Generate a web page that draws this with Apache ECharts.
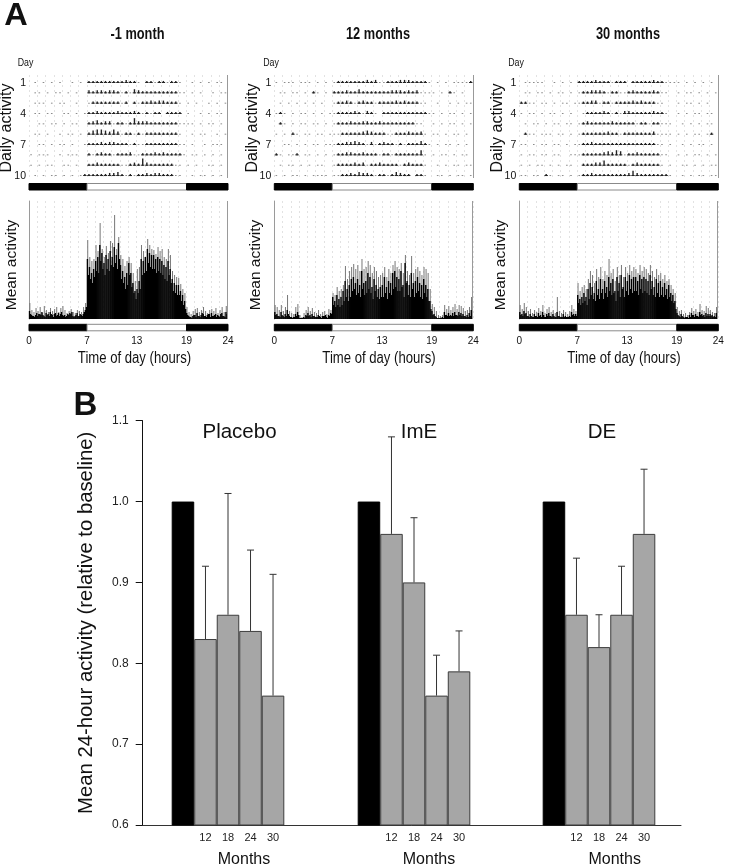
<!DOCTYPE html>
<html><head><meta charset="utf-8">
<style>html,body{margin:0;padding:0;background:#fff}#c{width:739px;height:866px}</style>
<script src="https://cdn.jsdelivr.net/npm/echarts@6/dist/echarts.min.js"></script>
</head><body><div id="c"></div>
<script>
const panelTitles = ['-1 month','12 months','30 months'];
const lightSchedule = [[0,7,'dark'],[7,19,'light'],[19,24,'dark']];
const hourTicks = [0,7,13,19,24];
const dayTicks = [1,4,7,10];

// mean activity (arbitrary units): tallest spikes per 15-minute bin
const meanPeak1 = [16,9,7,11,8,12,6,13,9,7,11,8,10,12,7,11,13,9,6,8,10,7,6,9,8,7,12,16,
 79,62,58,60,74,68,96,70,62,73,66,78,76,104,70,82,64,60,53,58,62,56,46,38,50,52,74,68,62,80,74,70,69,65,72,68,70,62,60,70,64,48,44,42,41,35,30,26,
 12,7,5,8,10,11,7,9,12,8,6,9,10,8,11,6,9,12,7,13];
const meanPeak2 = [14,12,9,14,8,12,24,8,6,5,12,15,4,2,6,9,12,8,11,7,6,9,5,7,8,5,10,9,
 26,24,32,28,30,34,53,40,48,52,55,50,54,48,60,50,52,58,54,46,52,48,42,44,46,52,42,50,46,54,58,52,50,56,46,64,48,44,63,46,50,52,48,44,52,50,46,30,
 15,12,8,4,3,4,14,10,13,9,12,15,10,14,13,11,8,9,12,22];
const meanPeak3 = [14,10,16,12,8,10,6,9,7,11,8,14,6,10,12,7,9,6,22,8,6,9,7,5,8,14,10,8,
 36,28,32,34,30,40,48,44,36,50,42,52,40,48,44,60,46,50,38,52,44,54,42,52,46,54,48,52,50,46,54,48,52,50,46,54,48,42,50,44,46,40,44,38,40,34,30,26,
 12,8,9,5,6,4,7,11,8,10,7,15,9,8,13,11,9,7,6,12];
// dense black core per 7.5-minute bin
const meanCore1 = [8,5,4,3,3,2,4,6,3,5,5,4,7,4,3,2,6,4,5,3,7,5,4,2,5,6,3,4,6,3,5,7,4,3,4,2,3,5,4,6,5,7,3,2,3,4,6,3,3,5,4,3,5,7,9,12,
 60,44,52,40,46,36,50,42, 58,48,62,46,74,58,66,50, 56,44,64,50,60,48,68,54, 62,52,72,56,64,50,76,60,
 54,40,48,36,42,30,46,34, 56,44,46,32,36,26,28,20, 30,26,38,30,60,44,58,46, 62,48,70,56,66,52,64,50,
 64,50,60,46,62,48,60,46, 58,44,54,40,52,38,58,44, 50,36,40,28,36,26,34,24, 34,24,28,18,24,14,18,10,
 6,4,3,2,2,1,3,4,4,2,6,3,3,2,4,6,5,3,3,2,4,5,5,2,6,3,3,4,5,2,4,3,2,5,6,3,3,2,7,5];
const meanCore2 = [7,4,5,3,3,2,7,4,3,2,5,3,9,5,3,2,2,1,2,2,5,3,7,4,1,1,1,1,2,1,4,3,6,3,4,2,5,3,3,2,2,2,4,3,2,1,3,3,3,4,2,1,4,3,6,5,
 22,14,18,12,24,14,20,12, 22,14,28,18,38,22,30,18, 34,22,40,28,42,30,36,24, 40,26,34,22,48,30,36,24,
 38,26,46,30,42,26,32,20, 40,28,34,22,30,20,32,22, 34,22,42,26,32,20,38,26, 36,24,46,30,48,32,42,28,
 40,28,48,32,34,22,56,36, 38,24,34,22,46,30,36,22, 38,26,42,28,36,22,34,20, 40,26,34,22,30,18,18,10,
 8,4,5,3,2,1,1,1,1,1,2,1,7,4,4,3,6,3,4,3,6,3,7,4,4,3,7,4,6,3,5,3,3,2,4,2,6,3,9,6];
const meanCore3 = [7,4,5,3,8,5,6,3,3,2,5,3,2,2,5,3,3,2,6,3,4,2,7,4,2,2,5,3,6,3,3,2,5,3,2,2,7,3,3,2,2,2,5,2,3,2,2,2,3,2,7,4,5,3,5,3,
 24,16,20,14,22,16,26,18, 22,14,30,20,36,24,32,20, 26,18,38,24,30,20,40,26, 30,20,38,26,32,22,42,28,
 36,24,40,26,28,18,42,28, 36,22,44,30,32,22,42,28, 38,24,44,30,40,26,42,28, 42,28,38,24,44,30,40,26,
 42,28,40,26,38,24,44,30, 38,24,32,22,40,26,36,22, 38,24,32,22,36,24,30,20, 34,22,26,18,24,16,18,10,
 6,4,3,2,5,3,2,1,2,2,2,1,4,2,6,4,4,2,5,3,3,2,7,4,5,3,4,2,6,3,5,3,5,3,4,2,3,2,6,4];

// daily activity per 30-minute bin, one row per day
const daily1 = [
 [0,1,0,1,0,1,0,1,0,0,1,0,1,0, 2,2,2,2,2,2,2,2,2,3,2,2,1,0,2,2,1,2,2,1,2,2,1,0, 0,1,0,1,0,1,0,1,1,0],
 [0,1,1,0,1,0,1,1,0,1,0,1,0,0, 3,2,3,3,2,3,3,2,1,2,1,4,3,2,2,2,2,2,2,2,2,2,1,1, 0,1,0,1,0,0,1,0,1,1],
 [0,1,1,1,0,1,0,1,1,0,0,1,0,0, 1,2,2,2,2,2,2,2,1,2,0,2,1,2,2,3,2,3,3,2,2,2,1,0, 1,0,1,0,0,1,0,1,0,1],
 [0,1,1,0,1,1,0,0,1,1,0,1,0,1, 2,2,3,2,2,2,2,3,2,2,2,3,2,1,2,1,2,2,0,2,2,2,2,0, 1,0,0,1,0,1,0,1,1,0],
 [0,0,1,1,0,1,1,0,1,0,1,1,0,0, 2,3,4,2,3,3,1,2,2,1,2,6,3,3,3,2,2,2,2,2,2,2,1,1, 1,1,0,1,0,1,1,0,1,0],
 [0,1,1,0,1,0,0,1,0,1,1,0,1,0, 2,4,5,5,4,3,5,3,1,2,2,1,2,1,2,2,2,2,2,2,2,2,1,0, 0,1,0,1,1,0,0,1,0,1],
 [0,0,1,1,0,1,0,1,1,0,1,0,0,1, 2,2,2,3,2,3,3,2,2,2,1,2,1,1,2,2,2,2,2,2,2,2,1,1, 0,1,0,0,1,0,1,1,1,0],
 [1,0,1,1,1,0,0,1,0,1,1,1,0,0, 2,1,2,3,2,2,1,2,2,2,3,1,1,2,2,2,3,2,3,2,2,2,2,1, 0,1,1,0,1,0,1,0,1,0],
 [1,0,1,0,1,1,0,0,1,1,0,1,0,0, 2,2,3,2,2,2,2,2,1,1,2,3,2,7,3,2,2,2,2,2,2,1,1,0, 1,0,1,0,0,1,1,0,1,0],
 [0,1,0,1,0,1,1,0,1,0,1,0,1,2, 2,2,2,2,2,3,3,4,2,1,2,1,2,2,3,2,3,3,2,2,2,1,1,0, 0,1,0,1,1,0,1,0,1,0]
];
const daily2 = [
 [1,0,1,1,1,0,1,1,1,0,1,0,1,0, 1,2,2,2,2,2,2,2,3,2,3,1,1,2,2,2,3,3,3,2,2,2,2,1, 0,1,0,1,0,1,1,1,1,2],
 [0,1,1,0,1,1,0,1,0,2,1,0,1,0, 2,2,2,3,2,2,4,2,2,2,2,2,2,2,3,3,3,2,3,2,3,1,1,1, 1,0,1,0,2,1,0,1,0,0],
 [0,1,0,1,0,1,0,1,0,1,0,1,0,0, 1,2,2,3,2,1,2,3,2,2,1,2,2,2,2,3,2,3,2,2,2,1,1,0, 0,1,0,0,1,0,1,0,1,1],
 [1,2,1,0,1,0,1,1,0,1,0,1,0,1, 1,2,2,2,2,3,2,1,3,2,1,0,2,2,2,2,2,2,2,2,2,2,2,1, 1,0,1,0,1,1,0,1,0,1],
 [0,2,1,0,1,0,1,1,0,1,1,0,1,0, 1,2,2,2,3,2,2,3,3,2,2,3,2,2,2,2,2,2,2,2,1,1,0,0, 1,0,1,0,1,1,0,1,0,1],
 [1,0,1,0,2,1,0,1,1,0,1,1,0,1, 1,1,2,2,2,2,2,3,4,3,2,2,2,1,1,2,2,2,3,2,2,3,1,0, 1,1,0,1,0,1,1,0,1,0],
 [0,0,1,1,0,1,0,1,0,1,1,0,1,1, 1,2,2,3,3,4,3,2,1,3,1,2,3,2,2,1,2,1,2,2,2,4,2,1, 0,1,0,1,1,0,1,0,1,0],
 [2,1,0,1,1,2,0,1,1,0,1,0,1,0, 1,2,2,3,3,2,2,3,2,2,2,1,2,2,1,2,2,2,2,2,2,5,1,0, 1,0,1,1,0,1,0,1,1,0],
 [0,1,0,1,1,0,1,0,1,0,1,1,0,0, 1,2,2,2,2,3,2,3,1,2,2,3,2,2,2,2,1,2,3,2,2,2,1,0, 0,1,0,1,0,1,1,0,1,1],
 [1,0,1,0,1,1,0,1,0,1,1,1,1,0, 1,1,2,2,3,2,4,3,3,2,1,2,2,1,2,4,3,2,2,0,2,2,1,0, 0,1,1,0,1,0,1,1,0,1]
];
const daily3 = [
 [0,1,1,1,1,1,0,0,1,0,1,0,1,0, 2,2,2,2,3,2,2,2,1,2,2,2,0,2,2,2,2,2,3,2,2,1,1,1, 1,0,1,0,1,0,1,0,1,0],
 [0,1,1,0,1,1,0,1,0,1,1,0,1,0, 1,2,2,3,3,3,2,1,2,2,1,1,2,3,2,2,2,2,3,2,1,1,0,0, 1,0,1,1,0,1,0,1,0,1],
 [2,2,1,1,0,1,1,0,1,0,1,1,0,1, 1,2,2,3,3,1,2,2,1,2,2,2,2,3,2,3,2,2,2,1,1,0,0,0, 1,0,1,1,0,1,0,1,0,0],
 [1,0,1,1,0,1,0,1,1,0,1,0,1,0, 0,1,2,2,2,2,3,2,1,2,1,3,3,2,2,2,2,2,3,2,2,1,0,0, 1,0,1,0,1,1,0,1,1,0],
 [0,1,0,1,1,0,1,0,1,1,0,1,1,0, 1,2,3,2,2,2,2,2,3,2,2,2,2,2,1,2,2,1,2,2,1,1,1,0, 0,1,0,1,0,1,0,1,1,0],
 [0,2,1,1,0,1,1,1,0,1,1,0,1,0, 1,2,2,2,2,2,2,3,2,2,1,2,2,2,2,2,2,2,3,1,1,1,1,0, 1,0,1,0,1,1,0,1,2,0],
 [1,1,0,1,0,1,1,0,1,1,0,1,0,1, 1,2,2,3,2,2,2,2,2,2,2,2,2,2,2,2,2,2,2,1,1,0,1,0, 0,1,0,1,0,1,1,0,1,0],
 [1,0,1,1,0,1,1,0,1,1,0,0,1,1, 1,2,2,2,2,2,3,4,3,5,4,1,2,2,3,2,2,2,2,2,1,1,0,0, 1,0,1,0,1,1,0,1,0,1],
 [1,0,1,0,1,1,0,1,0,1,0,1,1,0, 0,2,2,2,3,3,5,2,2,2,2,2,1,2,3,2,2,2,2,2,1,0,1,0, 0,1,1,0,1,0,1,0,1,1],
 [1,1,0,1,1,0,2,1,0,1,1,0,1,0, 1,2,2,3,2,2,2,2,2,2,2,2,3,5,3,2,2,2,2,2,2,2,1,0, 0,1,0,1,0,1,1,0,1,1]
];

// panel B
const monthLabels = ['', '12', '18', '24', '30'];
const groupNames = ['Placebo','ImE','DE'];
const placeboMeans = [1.0,0.83,0.86,0.84,0.76];
const placeboUpper = [null,0.92,1.01,0.94,0.91];
const imeMeans = [1.0,0.96,0.90,0.76,0.79];
const imeUpper = [null,1.08,0.98,0.81,0.84];
const deMeans = [1.0,0.86,0.82,0.86,0.96];
const deUpper = [null,0.93,0.86,0.92,1.04];

const SANS = '"Liberation Sans",Arial,sans-serif';
const panels = [
 {x:29,w:198.5,peak:meanPeak1,core:meanCore1,daily:daily1,title:137.5,dayX:25.5,dailyX:7,meanX:12,timeX:134.5},
 {x:274.3,w:198.5,peak:meanPeak2,core:meanCore2,daily:daily2,title:378,dayX:271,dailyX:253,meanX:255.5,timeX:379},
 {x:519.3,w:198.5,peak:meanPeak3,core:meanCore3,daily:daily3,title:628,dayX:516,dailyX:498,meanX:500.5,timeX:624}
];
const grids=[],xAxes=[],yAxes=[],series=[],texts=[];
function addGrid(left,top,width,height,xa,ya){
  grids.push({left,top,width,height,containLabel:false});
  const i=grids.length-1;
  xAxes.push(Object.assign({gridIndex:i},xa));
  yAxes.push(Object.assign({gridIndex:i},ya));
  return i;
}
function txt(text,x,y,font,opt){
  opt=opt||{};
  texts.push({type:'text',x,y,rotation:opt.rot||0,scaleX:opt.sx||1,scaleY:opt.sy||1,silent:true,
    style:{text,x:0,y:0,font,fill:opt.fill||'#111',textAlign:opt.align||'center',textVerticalAlign:'middle'}});
}
const hourSplit={show:true,lineStyle:{color:'#e2e2e2',type:[2,3],width:1}};
function hourAxis(){
  return {type:'value',min:0,max:24,interval:1,axisLine:{show:false},axisTick:{show:false},axisLabel:{show:false},splitLine:hourSplit};
}
function lightBar(p,top,withLabels){
  const xa={type:'value',min:0,max:24,interval:1,axisLine:{show:false},axisTick:{show:false},splitLine:{show:false},
    axisLabel:withLabels?{show:true,customValues:hourTicks,margin:5,fontFamily:SANS,fontSize:10,color:'#111',hideOverlap:false}:{show:false}};
  const i=addGrid(p.x,top,p.w+0.5,6.5,xa,{type:'value',min:0,max:1,show:false,splitLine:{show:false}});
  series.push({type:'custom',xAxisIndex:i,yAxisIndex:i,silent:true,clip:false,
    data:lightSchedule.map(s=>[s[0],s[1],s[2]==='dark'?1:0]),
    encode:{x:[0,1]},
    renderItem:function(params,api){
      const a=api.coord([api.value(0),1]),b=api.coord([api.value(1),0]);
      const dark=api.value(2)===1;
      return {type:'rect',shape:{x:a[0],y:a[1],width:b[0]-a[0],height:b[1]-a[1]},
        style:{fill:dark?'#000':'#fff',stroke:dark?'#000':'#8a8a8a',lineWidth:1}};
    }});
}
const PANEL_TOP=75, PANEL_H=103;
panels.forEach(function(p,pi){
  const r=addGrid(p.x,PANEL_TOP,p.w,PANEL_H,hourAxis(),{type:'value',inverse:true,min:0.226,max:10.19,
    axisLine:{show:false},axisTick:{show:false},splitLine:{show:false},
    axisLabel:{show:true,customValues:dayTicks,margin:3,fontFamily:SANS,fontSize:10.5,color:'#111'}});
  const rows=[];
  p.daily.forEach(function(row,d){row.forEach(function(v,b){if(v>0)rows.push([(b+0.5)/2,d+1,v]);});});
  series.push({type:'custom',xAxisIndex:r,yAxisIndex:r,silent:true,data:rows,encode:{x:0,y:1},
    renderItem:function(params,api){
      const t=api.value(0),d=api.value(1),v=api.value(2);
      const a=api.coord([t,d]),b=api.coord([t,d-v/10]);
      if(v===1) return {type:'rect',shape:{x:a[0]-0.8,y:a[1]-1,width:1.6,height:1},style:{fill:'#8c8c8c'}};
      return {type:'group',children:[
        {type:'rect',shape:{x:a[0]-1.7,y:a[1]-1,width:3.4,height:1},style:{fill:'#222'}},
        {type:'rect',shape:{x:a[0]-0.7,y:b[1],width:1.4,height:a[1]-b[1]},style:{fill:'#222'}}]};
    },
    markLine:{silent:true,symbol:'none',animation:false,label:{show:false},
      data:[{xAxis:24,lineStyle:{color:'#999',type:'solid',width:1}}]}});
  lightBar(p,183.5,false);
  const m=addGrid(p.x,201,p.w,118,hourAxis(),{type:'value',min:0,max:118,
    axisLine:{show:true,lineStyle:{color:'#9a9a9a',width:1}},axisTick:{show:false},axisLabel:{show:false},splitLine:{show:false}});
  series.push({type:'bar',xAxisIndex:m,yAxisIndex:m,silent:true,barWidth:1,barGap:'-100%',
    data:p.peak.map((v,i)=>[(i+0.5)/4,v]),itemStyle:{color:'#777'},
    markLine:{silent:true,symbol:'none',animation:false,label:{show:false},
      data:[{xAxis:24,lineStyle:{color:'#9a9a9a',type:'solid',width:1}}]}});
  series.push({type:'bar',xAxisIndex:m,yAxisIndex:m,silent:true,barWidth:1.4,barGap:'-100%',
    data:p.core.map((v,i)=>[(i+0.5)/8,v]),itemStyle:{color:'#000'}});
  lightBar(p,324.3,true);
  txt(panelTitles[pi],p.title,35,'bold 16px '+SANS,{sx:0.8});
  txt('Day',p.dayX,63,'11px '+SANS,{sx:0.8});
  txt('Daily activity',p.dailyX,128,'16px '+SANS,{rot:Math.PI/2});
  txt('Mean activity',p.meanX,265,'15.5px '+SANS,{rot:Math.PI/2});
  txt('Time of day (hours)',p.timeX,359,'16px '+SANS,{sx:0.82});
});
txt('A',16,16,'bold 31px '+SANS,{sx:1.05});
txt('B',85.5,406,'bold 33px '+SANS);

const BT=420.7,BH=404.3;
const b0=addGrid(142.7,BT,538.3,BH,{type:'value',min:0,max:1,axisLine:{show:true,lineStyle:{color:'#333',width:1}},axisTick:{show:false},axisLabel:{show:false},splitLine:{show:false}},
 {type:'value',min:0.6,max:1.1,interval:0.1,name:'Mean 24-hour activity (relative to baseline)',nameLocation:'middle',nameGap:46,
  nameTextStyle:{fontFamily:SANS,fontSize:20.3,color:'#111'},
  axisLine:{show:true,lineStyle:{color:'#111',width:1}},axisTick:{show:true,length:7,lineStyle:{color:'#111'}},
  axisLabel:{margin:14,fontFamily:SANS,fontSize:12,color:'#222',formatter:v=>v.toFixed(1)},splitLine:{show:false}});
series.push({type:'line',xAxisIndex:b0,yAxisIndex:b0,data:[],silent:true});
const groups=[[placeboMeans,placeboUpper,171.7,239.5,244],[imeMeans,imeUpper,357.7,419,429],[deMeans,deUpper,542.7,602,614.7]];
groups.forEach(function(g,gi){
  const i=addGrid(g[2],BT,112.6,BH,
    {type:'category',data:monthLabels,axisLine:{show:false},axisTick:{show:false},
     axisLabel:{margin:7,fontFamily:SANS,fontSize:11,color:'#222',interval:0},splitLine:{show:false}},
    {type:'value',min:0.6,max:1.1,interval:0.1,show:false,splitLine:{show:false}});
  series.push({type:'bar',xAxisIndex:i,yAxisIndex:i,silent:true,barWidth:'100%',
    data:g[0].map((v,k)=>({value:v,itemStyle:k===0?{color:'#000',borderColor:'#000',borderWidth:1}:{color:'#a6a6a6',borderColor:'#3c3c3c',borderWidth:1}}))});
  series.push({type:'custom',xAxisIndex:i,yAxisIndex:i,silent:true,clip:false,z:5,
    data:g[1].map((u,k)=>u===null?null:[k,g[0][k],u]).filter(Boolean),
    encode:{x:0,y:[1,2]},
    renderItem:function(params,api){
      const a=api.coord([api.value(0),api.value(1)]),b=api.coord([api.value(0),api.value(2)]);
      const st={stroke:'#333',lineWidth:1,fill:null};
      return {type:'group',children:[
        {type:'line',shape:{x1:a[0],y1:a[1],x2:b[0],y2:b[1]},style:st},
        {type:'line',shape:{x1:b[0]-3.5,y1:b[1],x2:b[0]+3.5,y2:b[1]},style:st}]};
    }});
  txt(groupNames[gi],g[3],432,'20.5px '+SANS);
  txt('Months',g[4],860,'16px '+SANS);
});

const chart=echarts.init(document.getElementById('c'),null,{renderer:'canvas'});
chart.setOption({animation:false,backgroundColor:'#fff',grid:grids,xAxis:xAxes,yAxis:yAxes,series:series,graphic:{elements:texts},tooltip:{show:false},legend:{show:false}});
</script></body></html>
